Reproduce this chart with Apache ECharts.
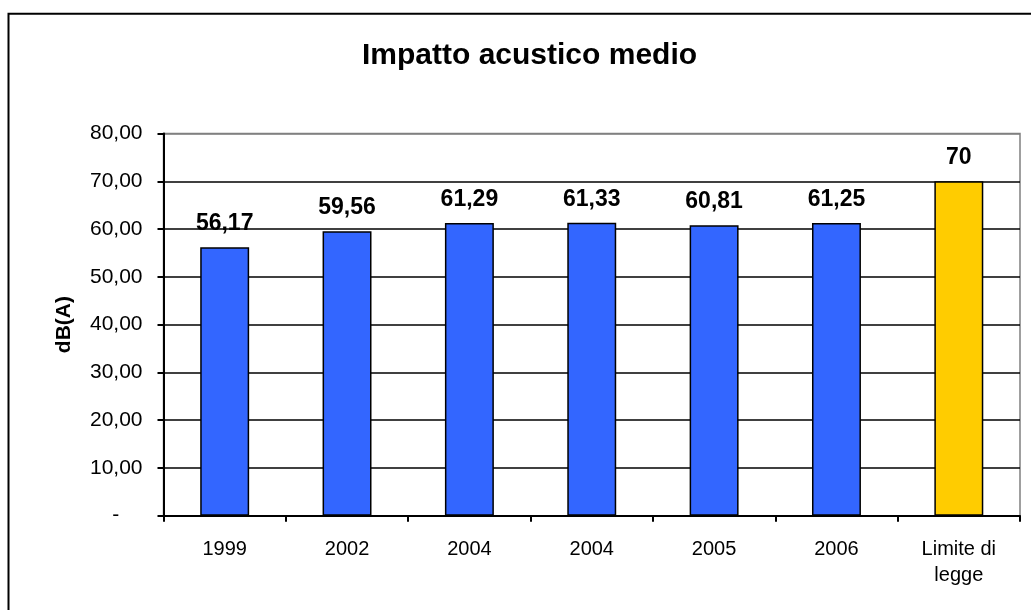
<!DOCTYPE html>
<html>
<head>
<meta charset="utf-8">
<style>
  html, body { margin: 0; padding: 0; background: #ffffff; }
  #chart { width: 1031px; height: 610px; }
</style>
<script src="https://cdn.jsdelivr.net/npm/echarts@6/dist/echarts.min.js"></script>
</head>
<body>
<div id="chart"></div>
<script>
// ---- data ----
const categories = ['1999', '2002', '2004', '2004', '2005', '2006', 'Limite di\nlegge'];
const values = [56.17, 59.56, 61.29, 61.33, 60.81, 61.25, 70];
const barColors = ['#3366FF', '#3366FF', '#3366FF', '#3366FF', '#3366FF', '#3366FF', '#FFCC00'];
const yTicks = { min: 0, max: 80, interval: 10 };
const titleText = 'Impatto acustico medio';
const yName = 'dB(A)';

const FONT = 'Liberation Sans, Arial, sans-serif';

function fmtValue(v) {
  if (Number.isInteger(v)) return String(v);
  return v.toFixed(2).replace('.', ',');
}

const chart = echarts.init(document.getElementById('chart'), null, { renderer: 'canvas' });

const splitColors = [];
for (let v = yTicks.min; v <= yTicks.max; v += yTicks.interval) {
  splitColors.push(v === yTicks.max ? '#808080' : '#000000');
}

chart.setOption({
  animation: false,
  backgroundColor: '#ffffff',
  title: {
    text: titleText,
    left: 357,
    top: 36,
    textStyle: { fontFamily: FONT, fontSize: 30, fontWeight: 'bold', color: '#000' }
  },
  graphic: [
    {
      type: 'rect',
      shape: { x: 8.5, y: 13.7, width: 1100, height: 700 },
      style: { fill: 'none', stroke: '#000', lineWidth: 2 },
      silent: true
    }
  ],
  grid: {
    left: 163.5,
    right: 11,
    top: 133.5,
    bottom: 94.3,
    show: true,
    borderColor: '#808080',
    borderWidth: 1.5,
    backgroundColor: 'transparent'
  },
  xAxis: {
    type: 'category',
    data: categories,
    axisLine: { show: true, lineStyle: { color: '#000', width: 2 } },
    axisTick: { show: true, length: 6, lineStyle: { color: '#000', width: 2 } },
    axisLabel: {
      fontFamily: FONT, fontSize: 20, color: '#000',
      margin: 21, lineHeight: 26, interval: 0
    },
    splitLine: { show: false }
  },
  yAxis: {
    type: 'value',
    min: yTicks.min,
    max: yTicks.max,
    interval: yTicks.interval,
    name: yName,
    nameLocation: 'middle',
    nameRotate: 90,
    nameGap: 89,
    nameTextStyle: { fontFamily: FONT, fontSize: 21, fontWeight: 'bold', color: '#000' },
    axisLine: { show: true, lineStyle: { color: '#000', width: 2 } },
    axisTick: { show: true, length: 6, lineStyle: { color: '#000', width: 2 } },
    axisLabel: {
      fontFamily: FONT, fontSize: 21, color: '#000', margin: 21,
      formatter: function (v) { return v === 0 ? '-    ' : v.toFixed(2).replace('.', ','); }
    },
    splitLine: { show: true, lineStyle: { color: splitColors, width: 1.5 } }
  },
  series: [{
    type: 'bar',
    barWidth: '40%',
    data: values.map((v, i) => ({
      value: v,
      itemStyle: { color: barColors[i], borderColor: '#000', borderWidth: 1.5 }
    })),
    label: {
      show: true,
      position: 'top',
      distance: 12,
      fontFamily: FONT,
      fontSize: 23,
      fontWeight: 'bold',
      color: '#000',
      formatter: p => fmtValue(p.value)
    }
  }]
});
</script>
</body>
</html>
